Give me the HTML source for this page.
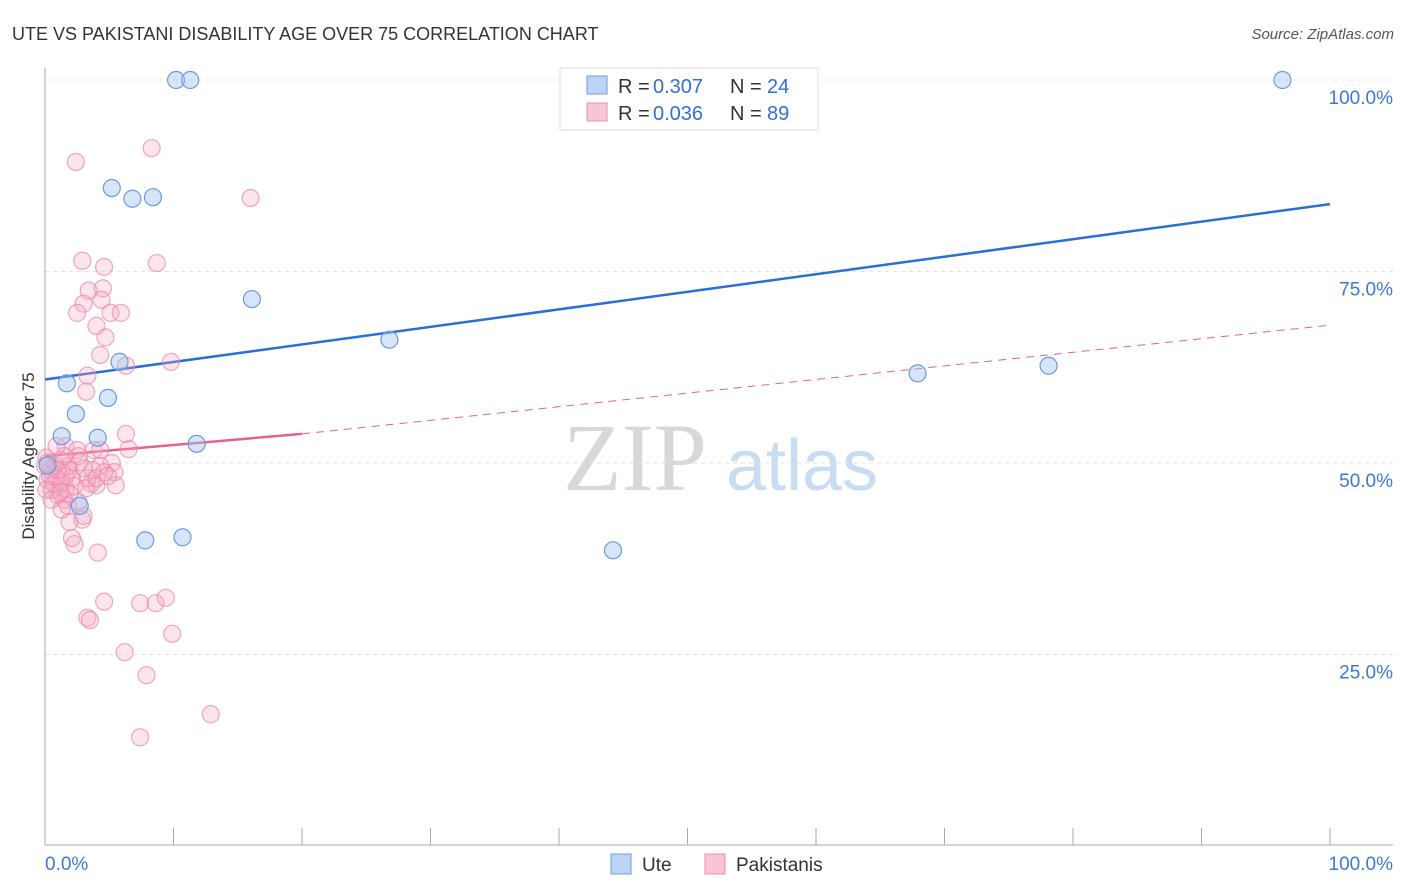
<!DOCTYPE html>
<html><head><meta charset="utf-8"><style>
body{margin:0;background:#fff;font-family:"Liberation Sans",sans-serif;}
svg{display:block}
</style></head><body>
<svg width="1406" height="892" viewBox="0 0 1406 892" xmlns="http://www.w3.org/2000/svg">
<text x="12" y="40" font-size="18" fill="#333">UTE VS PAKISTANI DISABILITY AGE OVER 75 CORRELATION CHART</text>
<text x="1394" y="39" font-size="15" fill="#555" font-style="italic" text-anchor="end">Source: ZipAtlas.com</text>
<g>
<text x="635" y="490" font-size="96" fill="#d8d8d8" font-family="Liberation Serif,serif" text-anchor="middle">ZIP</text>
<text x="802" y="490" font-size="72" fill="#c8dcf2" text-anchor="middle">atlas</text>
</g>
<g id="grid"></g>
<g id="axes"></g>
<text x="34" y="456" font-size="17" fill="#333" text-anchor="middle" transform="rotate(-90 34 456)">Disability Age Over 75</text>
<g id="trend"></g>
<g id="pts"></g>
<g>
<rect x="560" y="68" width="258" height="62" fill="#fff" stroke="#ddd"/>
<rect x="587" y="76" width="20" height="18" fill="#bcd5f5" stroke="#6a9be0"/>
<rect x="587" y="103" width="20" height="18" fill="#f9c4d3" stroke="#ec8fae"/>
<g font-size="20">
<text x="618" y="93" fill="#333">R =</text><text x="653" y="93" fill="#2f6fd6">0.307</text>
<text x="730" y="93" fill="#333">N =</text><text x="767" y="93" fill="#2f6fd6">24</text></g>
<g font-size="20">
<text x="618" y="120" fill="#333">R =</text><text x="653" y="120" fill="#2f6fd6">0.036</text>
<text x="730" y="120" fill="#333">N =</text><text x="767" y="120" fill="#2f6fd6">89</text></g>
</g>
<g>
<rect x="611" y="854" width="20" height="20" fill="#bcd5f5" stroke="#6a9be0"/>
<text x="642" y="871" font-size="19" fill="#333">Ute</text>
<rect x="705" y="854" width="20" height="20" fill="#f9c4d3" stroke="#ec8fae"/>
<text x="736" y="871" font-size="19" fill="#333">Pakistanis</text>
</g>
</svg>
<script>
const yTicks=[25,50,75,100];
const xTickLabels=["0.0%","100.0%"];
const uteX=[10.2,11.3,96.3,5.2,6.8,8.4,16.1,26.8,5.8,1.7,4.9,2.4,1.3,4.1,11.8,67.9,78.1,7.8,10.7,44.2,2.7,0.2,56.7];
const uteY=[100,100,100,85.9,84.5,84.7,71.4,66.1,63.2,60.4,58.5,56.4,53.5,53.3,52.5,61.7,62.7,39.9,40.3,38.6,44.4,49.7,100];
const pakX=[2.4,8.3,16.0,2.9,4.6,8.7,3.4,4.5,3.0,4.4,2.5,5.1,5.9,4.0,4.7,4.3,6.3,9.8,3.3,3.2,1.6,6.3,6.5,2.5,3.8,5.2,5.4,5.5,4.0,3.6,2.7,1.9,1.3,0.8,0.4,0.2,0.5,1.0,1.6,2.1,3.0,3.3,4.3,4.6,1.2,0.9,1.5,1.8,2.6,2.9,3.0,1.9,2.1,2.3,4.1,4.6,3.3,3.5,7.4,8.6,9.4,9.9,6.2,7.9,12.9,7.4,0.2,0.4,0.7,1.3,1.8,2.3,3.7,0.1,0.1,1.0,1.6,1.9,3.2,2.6,1.5,0.9,4.0,4.9,0.5,1.2,4.3,0.0,1.3];
const pakY=[89.3,91.1,84.6,76.4,75.6,76.1,72.5,72.8,70.8,71.3,69.6,69.6,69.6,67.9,66.4,64.1,62.7,63.2,61.4,59.3,52.2,53.8,51.8,51.7,51.7,50.0,48.8,47.1,47.1,47.3,50.1,49.1,49.1,49.7,49.1,47.8,46.5,45.8,46.7,48.0,49.3,48.0,49.6,48.8,50.4,48.0,45.2,44.4,44.9,42.6,43.1,42.3,40.2,39.4,38.3,31.9,29.8,29.5,31.7,31.7,32.4,27.7,25.3,22.3,17.2,14.2,50.1,48.3,47.3,47.5,49.6,47.0,49.1,50.7,46.5,49.1,48.3,46.0,46.7,50.9,50.9,52.2,48.0,48.3,45.2,46.2,51.7,49.6,43.9];
const uteTrend=[60.9,83.8];
const pakTrend=[50.9,53.8,68.0];
const NS="http://www.w3.org/2000/svg";
const X=v=>45+v*12.85, Y=v=>846-v*7.66;
function mk(tag,attrs,parent){const e=document.createElementNS(NS,tag);for(const k in attrs)e.setAttribute(k,attrs[k]);parent.appendChild(e);return e;}
const grid=document.getElementById('grid'),axes=document.getElementById('axes'),tr=document.getElementById('trend'),pts=document.getElementById('pts');
yTicks.forEach(t=>{
 const l=mk('line',{x1:45,x2:1393,y1:Y(t),y2:Y(t),stroke:'#e2e2e2','stroke-dasharray':'4 4'},grid);
 
 
 const tx=mk('text',{x:1393,y:Y(t)+24,'font-size':19,fill:'#3a78d8','text-anchor':'end'},grid);
 tx.textContent=t.toFixed(1)+'%';
 
 
});
const la=mk('line',{x1:45,x2:45,y1:68,y2:845,stroke:'#aaa'},axes);


const lb=mk('line',{x1:45,x2:1393,y1:845,y2:845,stroke:'#aaa'},axes);


for(let i=0;i<=10;i++){
 const t=mk('line',{x1:X(i*10),x2:X(i*10),y1:828,y2:845,stroke:'#aaa'},axes);
 
 
}
const xl0=mk('text',{x:45,y:870,'font-size':19,fill:'#3a78d8'},axes);xl0.textContent=xTickLabels[0];


const xl1=mk('text',{x:1393,y:870,'font-size':19,fill:'#3a78d8','text-anchor':'end'},axes);xl1.textContent=xTickLabels[1];


const ut=mk('line',{x1:X(0),y1:Y(uteTrend[0]),x2:X(100),y2:Y(uteTrend[1]),stroke:'#2a6fd6','stroke-width':2.5},tr);


const ps=mk('line',{x1:X(0),y1:Y(pakTrend[0]),x2:X(20),y2:Y(pakTrend[1]),stroke:'#e8608c','stroke-width':2.5},tr);


const pd=mk('line',{x1:X(20),y1:Y(pakTrend[1]),x2:X(100),y2:Y(pakTrend[2]),stroke:'#e8608c','stroke-width':1,'stroke-dasharray':'8 6'},tr);


pakX.forEach((x,i)=>{
 const c=mk('circle',{cx:X(x),cy:Y(pakY[i]),r:8.5,fill:'rgba(246,170,195,0.3)',stroke:'rgba(236,138,171,0.75)','stroke-width':1.2},pts);
 
 
});
uteX.forEach((x,i)=>{
 const c=mk('circle',{cx:X(x),cy:Y(uteY[i]),r:8.5,fill:'rgba(165,198,240,0.45)',stroke:'#6a9be0','stroke-width':1.2},pts);
 
 
});
</script>
</body></html>
